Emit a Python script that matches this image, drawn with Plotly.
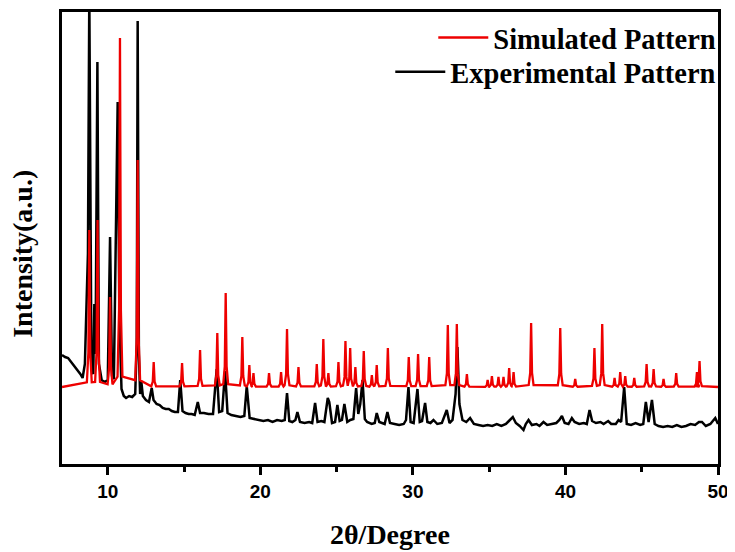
import plotly.graph_objects as go

# ---------------- data ----------------
# Simulated pattern: flat baseline + list of peak positions (2θ) and peak-top intensities (a.u.)
sim_baseline = 77
sim_peak_pos = [8.79, 9.33, 10.15, 10.80, 11.96, 13.01, 14.87, 16.05, 17.18, 17.73,
                18.82, 19.28, 19.55, 20.57, 21.36, 21.75, 22.50, 23.70, 24.13, 24.46,
                25.12, 25.58, 25.89, 26.23, 26.78, 27.31, 27.63, 28.36, 29.73, 30.34,
                31.07, 32.29, 32.88, 33.54, 34.90, 35.18, 35.61, 35.94, 36.31, 36.60,
                37.75, 39.66, 40.64, 41.90, 42.41, 43.22, 43.59, 43.92, 44.51, 45.32,
                45.78, 46.43, 47.26, 48.62, 48.79]
sim_peak_top = [234, 244, 167, 426, 304, 102, 101, 114, 131, 171,
                127, 99, 91, 91, 92, 135, 97, 100, 125, 91,
                102, 123, 116, 97, 113, 89, 99, 116, 107, 110,
                107, 139, 140, 90, 84, 88, 87, 87, 96, 92,
                141, 136, 85, 116, 140, 86, 92, 88, 86, 100,
                95, 85, 91, 92, 103]

# Experimental pattern: measured points (2θ, intensity a.u.)
exp_x = [7.0, 7.2, 7.4, 7.6, 7.8, 8.0, 8.2, 8.35, 8.5, 8.62, 8.7, 8.79, 8.86, 8.93, 9.05,
         9.12, 9.2, 9.32, 9.42, 9.6, 9.8, 10.0, 10.15, 10.28, 10.4, 10.52, 10.65, 10.76, 10.9,
         11.05, 11.2, 11.4, 11.6, 11.8, 11.9, 11.96, 12.04, 12.12, 12.2, 12.3, 12.5, 12.7, 12.88,
         13.0, 13.2, 13.4, 13.6, 13.8, 14.0, 14.2, 14.4, 14.6, 14.75, 14.9, 15.1, 15.3, 15.5,
         15.7, 15.9, 16.05, 16.3, 16.6, 16.9, 17.14, 17.3, 17.5, 17.69, 17.85, 18.1, 18.4, 18.7,
         18.95, 19.11, 19.3, 19.6, 19.9, 20.2, 20.5, 20.8, 21.1, 21.4, 21.6, 21.75, 21.9, 22.1,
         22.3, 22.43, 22.6, 22.9, 23.2, 23.4, 23.59, 23.75, 24.0, 24.2, 24.42, 24.52, 24.7, 24.9,
         25.05, 25.2, 25.35, 25.51, 25.7, 25.9, 26.1, 26.28, 26.42, 26.55, 26.7, 26.85, 27.0,
         27.3, 27.5, 27.63, 27.8, 28.0, 28.15, 28.33, 28.5, 28.8, 29.1, 29.4, 29.55, 29.71,
         29.85, 30.05, 30.3, 30.45, 30.6, 30.8, 30.95, 31.15, 31.35, 31.6, 31.9, 32.22, 32.4,
         32.6, 32.8, 32.92, 33.05, 33.25, 33.5, 33.75, 34.0, 34.3, 34.6, 34.9, 35.2, 35.5, 35.8,
         36.1, 36.35, 36.55, 36.75, 37.0, 37.25, 37.4, 37.58, 37.8, 38.1, 38.3, 38.56, 38.8,
         39.1, 39.4, 39.6, 39.77, 39.95, 40.2, 40.42, 40.6, 40.9, 41.2, 41.4, 41.58, 41.75, 42.0,
         42.3, 42.5, 42.8, 43.0, 43.3, 43.48, 43.65, 43.85, 44.02, 44.3, 44.6, 44.9, 45.1, 45.27,
         45.45, 45.67, 45.85, 46.1, 46.4, 46.7, 47.0, 47.3, 47.6, 47.9, 48.2, 48.5, 48.75, 48.95,
         49.2, 49.5, 49.82, 50.0]
exp_y = [109, 107, 106, 102, 99, 95, 90, 86, 100, 167, 210, 470, 200, 95, 90,
         160, 110, 402, 100, 84, 82, 84, 227, 88, 85, 216, 362, 150, 75,
         68, 66, 68, 67, 70, 120, 443, 110, 70, 82, 68, 64, 62, 76,
         64, 60, 59, 56, 55, 55, 53, 52, 52, 84, 53, 51, 50, 50,
         49, 62, 51, 51, 50, 50, 95, 52, 53, 93, 51, 49, 48, 47,
         48, 78, 46, 45, 44, 43, 44, 42, 44, 43, 44, 71, 43, 42,
         44, 52, 42, 41, 42, 41, 61, 42, 43, 42, 66, 62, 41, 42,
         59, 43, 44, 60, 42, 44, 45, 76, 50, 60, 84, 45, 42,
         40, 41, 51, 42, 41, 40, 52, 41, 40, 39, 40, 44, 77,
         42, 41, 75, 42, 43, 61, 42, 41, 44, 40, 41, 54, 41,
         44, 70, 117, 60, 44, 42, 46, 40, 39, 38, 39, 38, 40, 38,
         40, 44, 47, 41, 38, 34, 40, 44, 39, 40, 38, 42, 39,
         40, 41, 44, 48, 41, 40, 46, 42, 40, 41, 40, 54, 43, 41,
         42, 40, 43, 40, 40, 44, 42, 77, 40, 39, 41, 39, 40, 62,
         42, 64, 40, 38, 37, 38, 37, 39, 37, 38, 40, 39, 42, 42,
         38, 40, 46, 40]

x_ticks = [10, 20, 30, 40, 50]
x_minor_ticks = [15, 25, 35, 45]
x_range = [7, 50]
y_range = [0, 452]

# ---------------- build simulated polyline from the peak table ----------------
# each peak drawn as a narrow spike with a small skirt
sim_x = [x_range[0]]
sim_y = [sim_baseline]
for p, t in zip(sim_peak_pos, sim_peak_top):
    h = t - sim_baseline
    sim_x += [p - 0.16, p - 0.06, p, p + 0.06, p + 0.16]
    sim_y += [sim_baseline + 0.03 * h, sim_baseline + 0.22 * h, t,
              sim_baseline + 0.22 * h, sim_baseline + 0.03 * h]
sim_x.append(x_range[1])
sim_y.append(sim_baseline)

serif = "Times New Roman, Liberation Serif, serif"
sans = "Arial, Liberation Sans, sans-serif"

fig = go.Figure()
fig.add_trace(go.Scatter(x=exp_x, y=exp_y, mode="lines", name="Experimental Pattern",
                         line=dict(color="black", width=2.5), legend="legend2"))
fig.add_trace(go.Scatter(x=sim_x, y=sim_y, mode="lines", name="Simulated Pattern",
                         line=dict(color="#ee0000", width=2.3), legend="legend"))

# the page body adds an 8 px offset, so the figure is 8 px smaller on each side
fig.update_layout(
    width=727, height=544,
    margin=dict(l=54, r=17, t=4, b=88, autoexpand=False),
    paper_bgcolor="white", plot_bgcolor="white",
    showlegend=True,
    legend=dict(x=1.005, xanchor="right", y=0.9425, yanchor="middle",
                bgcolor="rgba(0,0,0,0)", borderwidth=0,
                font=dict(family=serif, size=28.5, color="black", weight="bold"),
                itemwidth=50),
    legend2=dict(x=1.005, xanchor="right", y=0.867, yanchor="middle",
                 bgcolor="rgba(0,0,0,0)", borderwidth=0,
                 font=dict(family=serif, size=28.5, color="black", weight="bold"),
                 itemwidth=50),
    xaxis=dict(range=x_range, tickvals=x_ticks, ticks="outside", ticklen=8, tickwidth=2.5,
               tickcolor="black", showline=True, linewidth=2.5, linecolor="black", mirror=True,
               showgrid=False, zeroline=False,
               tickfont=dict(family=sans, size=19, color="black", weight="bold"),
               minor=dict(tickvals=x_minor_ticks, ticks="outside", ticklen=5, tickwidth=2.5,
                          tickcolor="black", showgrid=False)),
    yaxis=dict(range=y_range, showticklabels=False, ticks="", showline=True, linewidth=2.5,
               linecolor="black", mirror=True, showgrid=False, zeroline=False),
    annotations=[
        dict(text="2θ/Degree", xref="paper", yref="paper", x=0.5, y=-0.157, xanchor="center",
             yanchor="middle", showarrow=False,
             font=dict(family=serif, size=28, color="black", weight="bold")),
        dict(text="Intensity(a.u.)", xref="paper", yref="paper", x=-0.0595, y=0.465,
             xanchor="center", yanchor="middle", showarrow=False, textangle=-90,
             font=dict(family=serif, size=28, color="black", weight="bold")),
    ],
)

fig.write_html("out.html")
